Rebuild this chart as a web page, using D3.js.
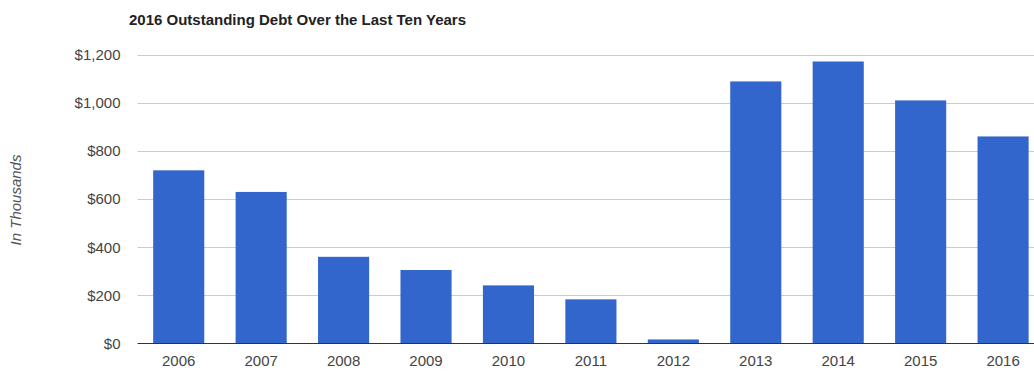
<!DOCTYPE html>
<html>
<head>
<meta charset="utf-8">
<script src="https://cdn.jsdelivr.net/npm/d3@7"></script>
<style>
  html, body { margin: 0; padding: 0; background: #fff; overflow: hidden; }
  svg { display: block; font-family: Arial, "Liberation Sans", sans-serif; }
</style>
</head>
<body>
<svg id="chart" width="1034" height="371"></svg>
<script>
const years = ["2006","2007","2008","2009","2010","2011","2012","2013","2014","2015","2016"];
const debt = [720, 630, 360, 305, 241, 183, 16, 1090, 1173, 1011, 861];
const yTicks = [0, 200, 400, 600, 800, 1000, 1200];
const titleText = "2016 Outstanding Debt Over the Last Ten Years";
const yAxisTitle = "In Thousands";

const svg = d3.select("#chart");
const plotLeft = 137.5, plotRight = 1044.3, plotTop = 55, plotBottom = 343.3;

const x = d3.scaleBand().domain(years).range([plotLeft, plotRight]).paddingInner(0.38).paddingOuter(0.19);
const y = d3.scaleLinear().domain([0, 1200]).range([plotBottom, plotTop]);
const fmt = d => "$" + d3.format(",")(d);

// gridlines
svg.append("g").selectAll("line").data(yTicks.filter(d => d !== 0)).join("line")
  .attr("x1", plotLeft).attr("x2", 1034)
  .attr("y1", d => Math.round(y(d)) + 0.5).attr("y2", d => Math.round(y(d)) + 0.5)
  .attr("stroke", "#cccccc").attr("stroke-width", 1);

// y axis labels
const yAxis = d3.axisLeft(y).tickValues(yTicks).tickFormat(fmt).tickSize(0).tickPadding(0);
const gy = svg.append("g").attr("transform", `translate(${plotLeft - 17},0)`).call(yAxis);
gy.select(".domain").remove();
gy.selectAll("text").attr("fill", "#444").style("font-size", "15px").style("font-family", "Arial, 'Liberation Sans', sans-serif");

// bars
svg.append("g").selectAll("rect").data(years).join("rect")
  .attr("x", d => x(d))
  .attr("width", x.bandwidth())
  .attr("y", (d, i) => y(debt[i]))
  .attr("height", (d, i) => y(0) - y(debt[i]))
  .attr("fill", "#3366cc");

// baseline
svg.append("line").attr("x1", plotLeft).attr("x2", 1034)
  .attr("y1", Math.round(y(0)) + 0.5).attr("y2", Math.round(y(0)) + 0.5)
  .attr("stroke", "#333").attr("stroke-width", 1);

// x axis
const xAxis = d3.axisBottom(x).tickSize(0).tickPadding(0);
const gx = svg.append("g").attr("transform", `translate(0,${plotBottom + 12})`).call(xAxis);
gx.select(".domain").remove();
gx.selectAll("text").attr("fill", "#444").attr("dy", "0.71em").style("font-size", "15px").style("font-family", "Arial, 'Liberation Sans', sans-serif");

// title
svg.append("text").attr("x", 129).attr("y", 25)
  .attr("font-size", "15px").attr("font-weight", "bold").attr("fill", "#222")
  .text(titleText);

// y axis title
svg.append("text").attr("transform", "translate(21,200) rotate(-90)")
  .attr("text-anchor", "middle").attr("font-size", "15px").attr("font-style", "italic")
  .attr("fill", "#555").text(yAxisTitle);
</script>
</body>
</html>
